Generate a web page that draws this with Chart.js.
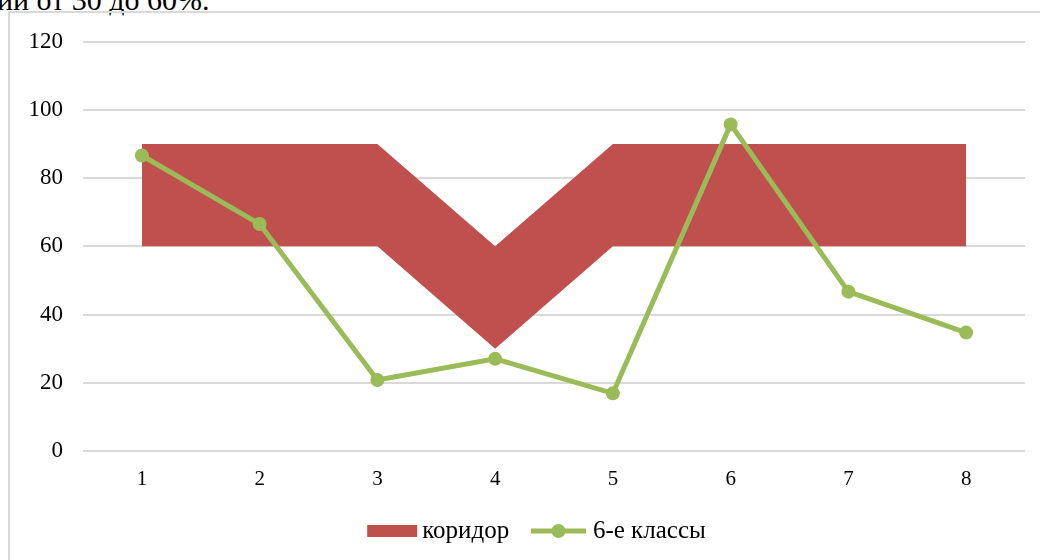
<!DOCTYPE html>
<html>
<head>
<meta charset="utf-8">
<script src="https://cdn.jsdelivr.net/npm/chart.js@4"></script>
<style>
  body { margin: 0; background: #fff; width: 1040px; height: 560px; overflow: hidden; position: relative; }
  #caption { position: absolute; left: -3px; top: -15px; font: 30px "Liberation Serif", serif; line-height: 30px; color: #000; white-space: nowrap; }
  #box { position: absolute; left: 8px; top: 11px; width: 1040px; height: 560px; border-left: 2px solid #d9d9d9; border-top: 2px solid #d9d9d9; }
  #wrap { position: absolute; left: 10px; top: 13px; width: 1030px; height: 547px; }
</style>
</head>
<body>
<div id="caption">ии от 30 до 60%.</div>
<div id="box"></div>
<div id="wrap"><canvas id="chart"></canvas></div>
<script>
// data
const grades = ["1", "2", "3", "4", "5", "6", "7", "8"];
const corridorLow = [60, 60, 60, 30, 60, 60, 60, 60];
const corridorHigh = [90, 90, 90, 60, 90, 90, 90, 90];
const sixthGrade = [86.6, 66.5, 20.8, 27, 16.9, 95.7, 46.7, 34.7];

const red = "#C0504D";
const green = "#9BBB59";

// legend icons, wider than the layout box so they sit like in the original
function makeIcon(kind) {
    const c = document.createElement("canvas");
    c.width = 64;
    c.height = 16;
    const g = c.getContext("2d");
    if (kind === "band") {
        g.fillStyle = red;
        g.fillRect(12, 2, 50, 12);
    } else {
        g.strokeStyle = green;
        g.lineWidth = 5;
        g.beginPath();
        g.moveTo(5, 8);
        g.lineTo(60, 8);
        g.stroke();
        g.fillStyle = green;
        g.beginPath();
        g.arc(32.5, 8, 7, 0, Math.PI * 2);
        g.fill();
    }
    return c;
}
const bandIcon = makeIcon("band");
const lineIcon = makeIcon("line");

const ctx = document.getElementById("chart").getContext("2d");

new Chart(ctx, {
    type: "line",
    data: {
        labels: grades,
        datasets: [
            { label: "низ", data: corridorLow, borderColor: "rgba(0,0,0,0)", borderWidth: 0, pointRadius: 0, fill: false, order: 2 },
            { label: "коридор", data: corridorHigh, borderColor: "rgba(0,0,0,0)", borderWidth: 0, pointRadius: 0, backgroundColor: red, fill: "-1", order: 2 },
            { label: "6-е классы", data: sixthGrade, borderColor: green, backgroundColor: green, borderWidth: 5, pointRadius: 7, pointBackgroundColor: green, pointBorderWidth: 0, tension: 0, fill: false, order: 0 }
        ]
    },
    options: {
        responsive: true,
        maintainAspectRatio: false,
        animation: false,
        layout: { padding: { left: 0, right: 15, top: 28.5, bottom: 6.5 } },
        plugins: {
            tooltip: { enabled: false },
            legend: {
                position: "bottom",
                fullSize: false,
                labels: {
                    usePointStyle: true,
                    pointStyleWidth: 45,
                    boxHeight: 16,
                    padding: 26.3,
                    color: "#000",
                    font: { family: "'Liberation Serif', serif", size: 25 },
                    generateLabels: function () {
                        return [
                            { text: "коридор", pointStyle: bandIcon, fillStyle: red, strokeStyle: red, lineWidth: 0, datasetIndex: 1, fontColor: "#000" },
                            // trailing spaces nudge the centred legend to the right spot
                            { text: "6-е классы\u2002\u2002\u2002", pointStyle: lineIcon, fillStyle: green, strokeStyle: green, lineWidth: 0, datasetIndex: 2, fontColor: "#000" }
                        ];
                    }
                }
            }
        },
        scales: {
            x: {
                offset: true,
                grid: { display: false, drawTicks: false },
                border: { display: false },
                ticks: { color: "#000", padding: 16, font: { family: "'Liberation Serif', serif", size: 21 } },
                afterFit: function (scale) { scale.height = 41.2; }
            },
            y: {
                min: 0,
                max: 120,
                grid: { color: "#d9d9d9", lineWidth: 2, drawTicks: false },
                border: { display: false },
                ticks: { stepSize: 20, color: "#000", padding: 20, font: { family: "'Liberation Serif', serif", size: 23 } },
                afterFit: function (scale) {
                    scale.width = 73;
                    scale.paddingTop = 0;
                }
            }
        }
    }
});
</script>
</body>
</html>
